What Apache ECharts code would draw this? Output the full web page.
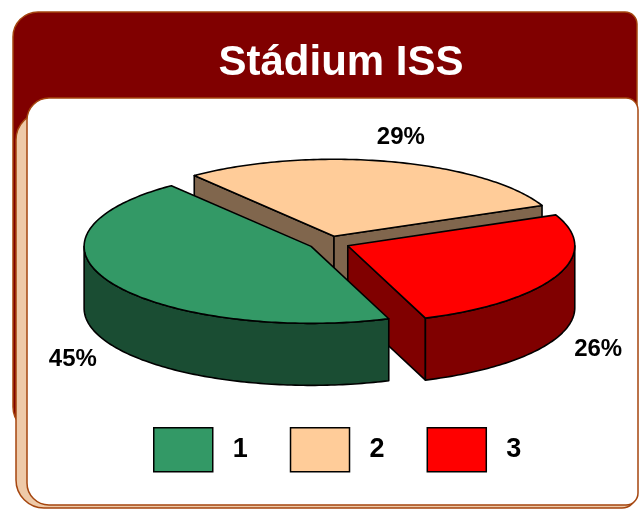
<!DOCTYPE html>
<html>
<head>
<meta charset="utf-8">
<title>Stádium ISS</title>
<script src="https://cdn.jsdelivr.net/npm/echarts@6/dist/echarts.min.js"></script>
<style>
  html, body { margin: 0; padding: 0; background: #ffffff; }
  #chart { width: 639px; height: 509px; }
</style>
</head>
<body>
<div id="chart"></div>
<script>
// Share of patients by ISS stage
const chartTitle = 'Stádium ISS';
const categories = ['1', '2', '3'];
const shares = [45, 29, 26];
const sliceColors = ['#339966', '#FFCC99', '#FF0000'];

// 3D pie geometry (pixels / degrees, clockwise from 12 o'clock)
const PIE = {
  cx: 329, cy: 243,
  rx: 227, ry: 77,
  depth: 62,
  explode: 0.09,
  firstAngle: 160,
  labelRx: 1.2, labelRy: 1.32
};
const FONT = '"Liberation Sans", Arial, Helvetica, sans-serif';
const EDGE = '#A5460F';

const total = shares.reduce((s, v) => s + v, 0);
const DEG = Math.PI / 180;

function shade(hex, f) {
  const n = parseInt(hex.slice(1), 16);
  const r = Math.round(((n >> 16) & 255) * f);
  const g = Math.round(((n >> 8) & 255) * f);
  const b = Math.round((n & 255) * f);
  return 'rgb(' + r + ',' + g + ',' + b + ')';
}

function sliceRange(i) {
  let a = PIE.firstAngle;
  for (let k = 0; k < i; k++) a += shares[k] / total * 360;
  return [a, a + shares[i] / total * 360];
}

function ell(cx, cy, deg, dy) {
  return [cx + PIE.rx * Math.sin(deg * DEG), cy - PIE.ry * Math.cos(deg * DEG) + (dy || 0)];
}

function arc(cx, cy, a0, a1, dy) {
  const n = Math.max(2, Math.ceil(Math.abs(a1 - a0)));
  const pts = [];
  for (let j = 0; j <= n; j++) pts.push(ell(cx, cy, a0 + (a1 - a0) * j / n, dy));
  return pts;
}

function renderSlice(i) {
  return function (params, api) {
    const value = api.value(0);
    const [a0, a1] = sliceRange(i);
    const mid = (a0 + a1) / 2;
    const s = Math.sin(mid * DEG), c = Math.cos(mid * DEG);
    const ox = PIE.cx + PIE.explode * PIE.rx * s;
    const oy = PIE.cy - PIE.explode * PIE.ry * c;
    const H = PIE.depth;
    const topColor = sliceColors[i];
    const sideColor = shade(topColor, 0.5);
    // slices nearer the viewer are painted later
    const base = Math.round((1 - c) * 100) * 10;
    const line = { stroke: '#000', lineWidth: 1.6, lineJoin: 'round' };
    const children = [];

    // radial cut faces that turn towards the viewer
    const cutFace = function (ang) {
      const p = ell(ox, oy, ang);
      children.push({
        type: 'polygon', z2: base + 1,
        shape: { points: [[ox, oy], p, [p[0], p[1] + H], [ox, oy + H]] },
        style: Object.assign({ fill: sideColor }, line)
      });
    };
    if (Math.cos((a0 - 90) * DEG) < 0) cutFace(a0);
    if (Math.cos((a1 + 90) * DEG) < 0) cutFace(a1);

    // outer wall on the front half of the ellipse
    for (let k = -1; k <= 2; k++) {
      const s0 = Math.max(a0, 90 + 360 * k);
      const s1 = Math.min(a1, 270 + 360 * k);
      if (s1 > s0) {
        const pts = arc(ox, oy, s0, s1).concat(arc(ox, oy, s1, s0, H));
        children.push({
          type: 'polygon', z2: base + 2,
          shape: { points: pts },
          style: Object.assign({ fill: sideColor }, line)
        });
      }
    }

    // top face
    children.push({
      type: 'polygon', z2: base + 3,
      shape: { points: [[ox, oy]].concat(arc(ox, oy, a0, a1)) },
      style: Object.assign({ fill: topColor }, line)
    });

    // percentage label
    const lx = ox + PIE.labelRx * PIE.rx * s;
    const ly = oy - PIE.labelRy * PIE.ry * c + (c < 0 ? H + 2 : 0);
    children.push({
      type: 'text', z2: base + 4,
      style: {
        x: lx, y: ly,
        text: Math.round(value / total * 100) + '%',
        fill: '#000',
        font: 'bold 24px ' + FONT,
        align: 'center', verticalAlign: 'middle'
      }
    });

    return { type: 'group', children: children };
  };
}

const chart = echarts.init(document.getElementById('chart'), null, { renderer: 'canvas' });

chart.setOption({
  animation: false,
  backgroundColor: '#ffffff',
  graphic: [
    {
      type: 'rect', z: 0, z2: 1,
      shape: { x: 13, y: 12, width: 624, height: 420, r: [25, 12, 12, 25] },
      style: { fill: '#800000', stroke: EDGE, lineWidth: 1.5 }
    },
    {
      type: 'rect', z: 0, z2: 2,
      shape: { x: 16, y: 112, width: 620, height: 396, r: [28, 12, 14, 28] },
      style: { fill: '#EECAA9', stroke: EDGE, lineWidth: 1.5 }
    },
    {
      type: 'rect', z: 0, z2: 3,
      shape: { x: 27, y: 98, width: 611, height: 407, r: [22, 12, 12, 22] },
      style: { fill: '#ffffff', stroke: EDGE, lineWidth: 1.5 }
    },
    {
      type: 'text', z: 0, z2: 4,
      style: {
        x: 341, y: 63,
        text: chartTitle,
        fill: '#ffffff',
        font: 'bold 42px ' + FONT,
        align: 'center', verticalAlign: 'middle'
      }
    }
  ],
  legend: {
    data: categories,
    left: 153, top: 427,
    padding: 0,
    icon: 'rect',
    itemWidth: 59, itemHeight: 44,
    itemGap: 42,
    selectedMode: false,
    itemStyle: { borderColor: '#000', borderWidth: 1.5 },
    textStyle: {
      fontFamily: FONT, fontSize: 27, fontWeight: 'bold', color: '#000',
      padding: [0, 0, 0, 15]
    }
  },
  series: categories.map(function (name, i) {
    return {
      type: 'custom',
      name: name,
      coordinateSystem: 'none',
      silent: true,
      itemStyle: { color: sliceColors[i] },
      data: [shares[i]],
      renderItem: renderSlice(i)
    };
  })
});
</script>
</body>
</html>
